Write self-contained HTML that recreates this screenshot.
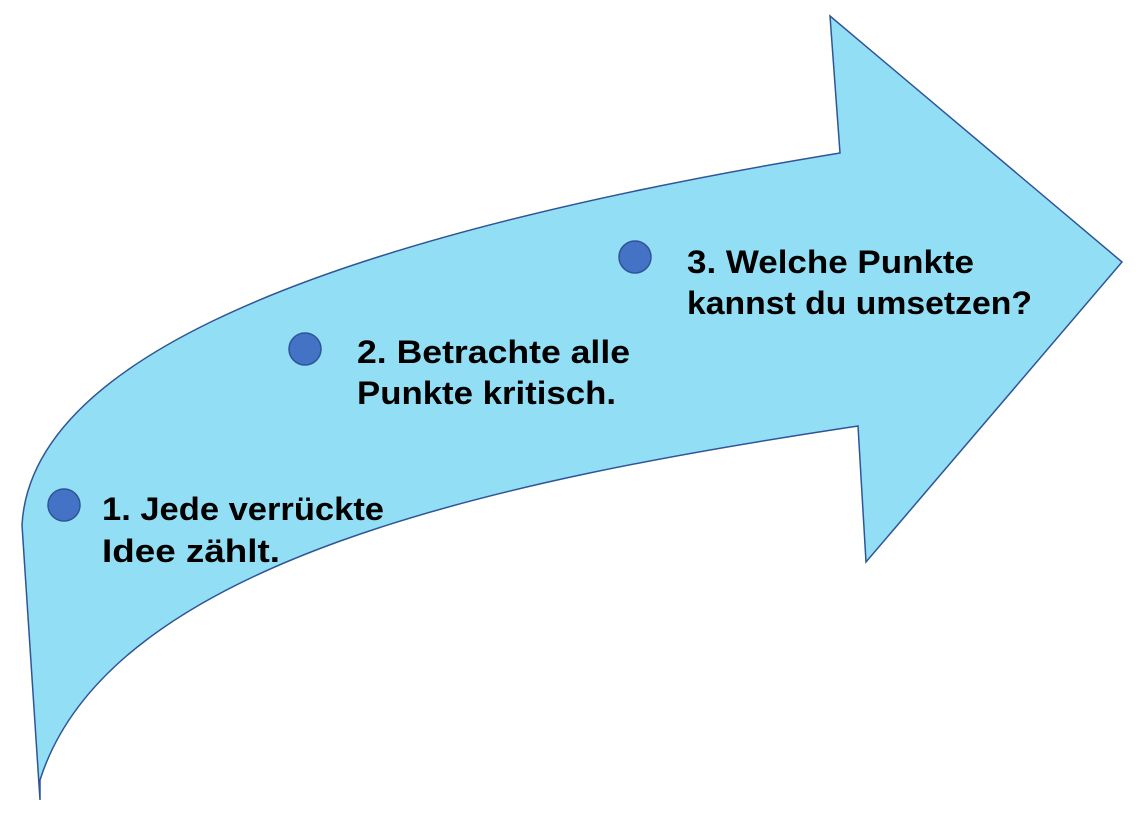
<!DOCTYPE html>
<html><head><meta charset="utf-8"><style>
html,body{margin:0;padding:0;background:#fff;}
svg{display:block}
text{font-family:"Liberation Sans",sans-serif;font-weight:bold;font-size:32px;fill:#000;}
</style></head><body>
<svg width="1139" height="820" viewBox="0 0 1139 820">
<path d="M40,800 L22,525 C30,380 250,250 840,153 L830,16 L1122,262 L866,562 L858,426 C500,480 110,560 40,780 Z" fill="#92def5" stroke="#2f5597" stroke-width="1.5"/>
<circle cx="64" cy="505" r="16" fill="#4472c4" stroke="#2f5597" stroke-width="1.5"/>
<circle cx="305" cy="349" r="16" fill="#4472c4" stroke="#2f5597" stroke-width="1.5"/>
<circle cx="635" cy="257" r="16" fill="#4472c4" stroke="#2f5597" stroke-width="1.5"/>
<text x="102" y="520" textLength="282" lengthAdjust="spacingAndGlyphs">1. Jede verrückte</text>
<text x="102" y="562" textLength="178" lengthAdjust="spacingAndGlyphs">Idee zählt.</text>
<text x="357" y="363" textLength="273" lengthAdjust="spacingAndGlyphs">2. Betrachte alle</text>
<text x="357" y="404" textLength="259" lengthAdjust="spacingAndGlyphs">Punkte kritisch.</text>
<text x="687" y="273" textLength="287" lengthAdjust="spacingAndGlyphs">3. Welche Punkte</text>
<text x="687" y="314" textLength="345" lengthAdjust="spacingAndGlyphs">kannst du umsetzen?</text>
</svg>
</body></html>
